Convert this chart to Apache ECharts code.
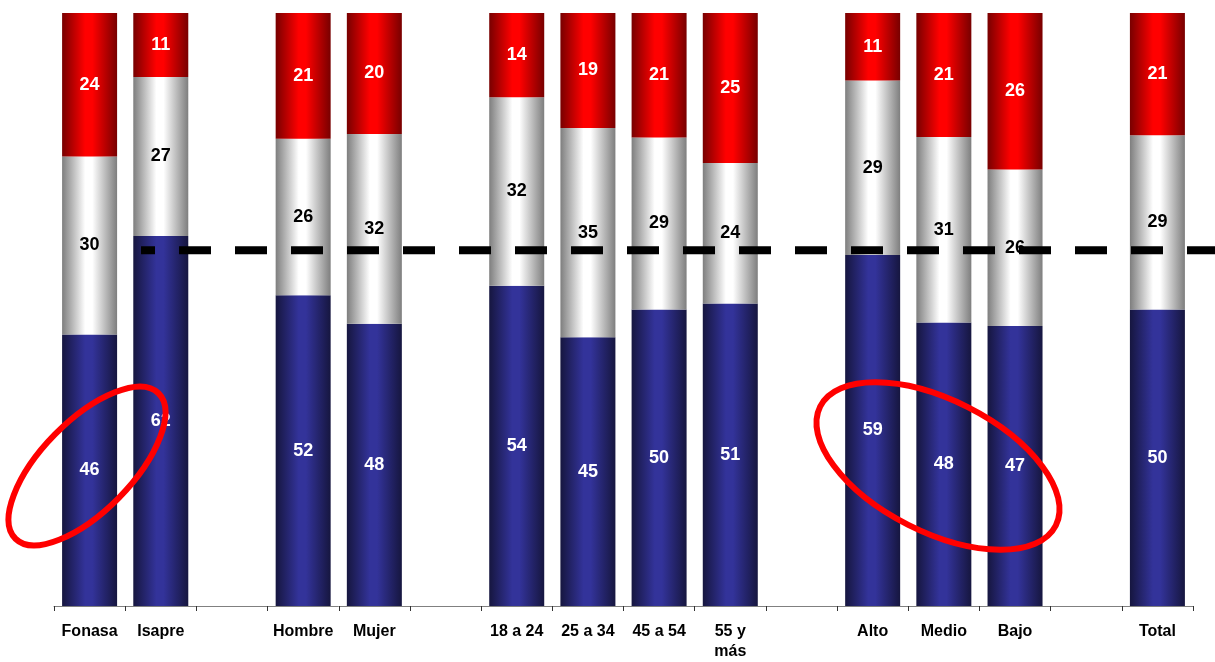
<!DOCTYPE html>
<html>
<head>
<meta charset="utf-8">
<script src="https://cdn.jsdelivr.net/npm/echarts@6/dist/echarts.min.js"></script>
<style>
html,body{margin:0;padding:0;background:#fff;}
#chart{width:1215px;height:662px;}
</style>
</head>
<body>
<div id="chart"></div>
<script>
// Categories ('' = empty spacer slot between groups)
var categories = ['Fonasa', 'Isapre', '', 'Hombre', 'Mujer', '', '18 a 24', '25 a 34', '45 a 54', '55 y\nmás', '', 'Alto', 'Medio', 'Bajo', '', 'Total'];
// Values (labels shown rounded)
var blueValues  = [45.8, 62.4, null, 52.4, 47.6, null, 54.0, 45.3, 50.0, 51.0, null, 59.2, 47.8, 47.2, null, 50.0];
var whiteValues = [30.0, 26.8, null, 26.4, 32.0, null, 31.8, 35.3, 29.0, 23.7, null, 29.4, 31.3, 26.4, null, 29.4];
var redValues   = [24.2, 10.8, null, 21.2, 20.4, null, 14.2, 19.4, 21.0, 25.3, null, 11.4, 20.9, 26.4, null, 20.6];
var referenceLevel = 60;

var chart = echarts.init(document.getElementById('chart'));

function grad(edge, mid) {
  return new echarts.graphic.LinearGradient(0, 0, 1, 0, [
    {offset: 0, color: edge},
    {offset: 0.42, color: mid},
    {offset: 0.55, color: mid},
    {offset: 1, color: edge}
  ]);
}
var font = 'Arial, "Liberation Sans", sans-serif';
function lbl(color) {
  return {
    show: true, position: 'inside', color: color, fontWeight: 'bold',
    fontSize: 18, fontFamily: font,
    formatter: function (p) { return Math.round(p.value); }
  };
}
function series(name, data, edge, mid, lc) {
  return {
    name: name, type: 'bar', stack: 'all', data: data, barWidth: 55,
    itemStyle: {color: grad(edge, mid)},
    label: lbl(lc),
    silent: true
  };
}

chart.setOption({
  animation: false,
  grid: {left: 54, right: 22, top: 13, bottom: 55},
  xAxis: {
    type: 'category', data: categories,
    axisLine: {lineStyle: {color: '#808080', width: 1}},
    axisTick: {show: true, length: 5, lineStyle: {color: '#333'}},
    axisLabel: {color: '#000', fontWeight: 'bold', fontSize: 16, fontFamily: font, margin: 16, interval: 0, lineHeight: 20}
  },
  yAxis: {type: 'value', min: 0, max: 100, show: false, splitLine: {show: false}},
  series: [
    series('blue', blueValues, '#16163f', '#33339a', '#fff'),
    series('white', whiteValues, '#7e7e7e', '#ffffff', '#000'),
    series('red', redValues, '#780000', '#ff0000', '#fff')
  ]
});

var yLine = chart.convertToPixel({yAxisIndex: 0}, referenceLevel);
chart.setOption({
  graphic: [
    {
      type: 'line', z: 100,
      shape: {x1: 141, y1: yLine, x2: 1215, y2: yLine},
      style: {stroke: '#000', lineWidth: 8, lineDash: [32, 24], lineDashOffset: 18}
    },
    {
      type: 'ellipse', z: 100,
      x: 87, y: 466, rotation: 45.5 * Math.PI / 180,
      shape: {cx: 0, cy: 0, rx: 102, ry: 45},
      style: {fill: 'none', stroke: '#ff0000', lineWidth: 6}
    },
    {
      type: 'ellipse', z: 100,
      x: 938, y: 466, rotation: -26.8 * Math.PI / 180,
      shape: {cx: 0, cy: 0, rx: 132, ry: 66},
      style: {fill: 'none', stroke: '#ff0000', lineWidth: 6}
    }
  ]
});
</script>
</body>
</html>
